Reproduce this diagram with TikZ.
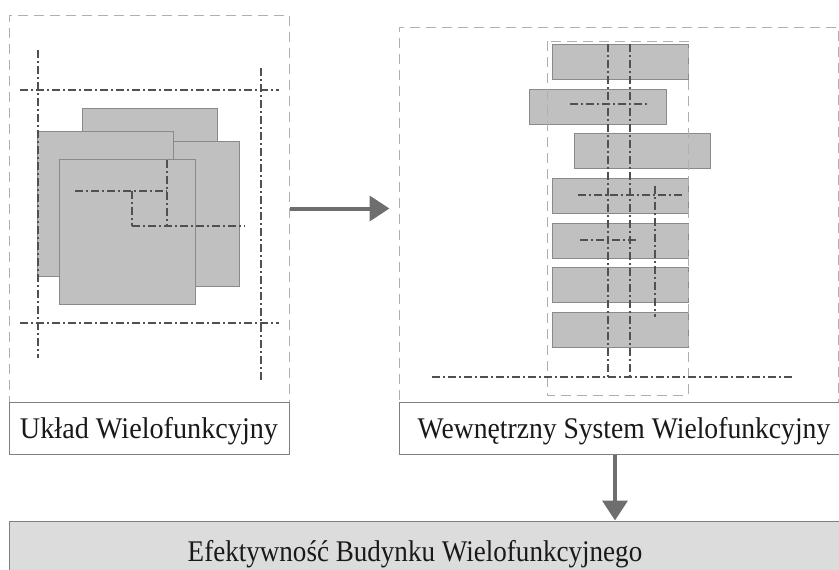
\documentclass[tikz,border=0pt]{standalone}
\usepackage{fontspec}
\setmainfont{Liberation Serif}[FakeStretch=0.94]
\usepackage{tikz}
\usetikzlibrary{arrows.meta, positioning}
\definecolor{blockgray}{HTML}{C0C0C0}
\definecolor{blockedge}{HTML}{8A8A8A}
\definecolor{axisgray}{HTML}{505050}
\definecolor{framegray}{HTML}{B0B0B0}
\definecolor{arrowgray}{HTML}{6E6E6E}
\definecolor{resultgray}{HTML}{DCDCDC}
\tikzset{
	frame/.style={draw=framegray, line width=1pt, dash pattern=on 10pt off 6pt, minimum width=#1, inner sep=0pt},
	labelbox/.style={draw=gray, line width=1pt, fill=white, minimum height=52pt, inner sep=0pt, text height=24pt, text depth=4pt, font=\fontsize{30}{32}\selectfont, text=black!90},
	block/.style={fill=blockgray, draw=blockedge, line width=1pt},
	axis/.style={draw=axisgray, line width=1.6pt, dash pattern=on 8pt off 3pt on 2pt off 3pt},
	flow/.style={draw=arrowgray, line width=4pt, -{Triangle[length=20pt, width=25pt]}}
}
\begin{document}
\begin{tikzpicture}[x=1pt, y=-1pt]
	\useasboundingbox (0,0) rectangle (839,570);
	% frames
	\node[frame=280pt, minimum height=387pt] (lframe) at (149,208.5) {};
	\node[frame=439pt, minimum height=375pt] (rframe) at (618.5,214.5) {};
	% left layout
	\foreach \xa/\ya/\xb/\yb in {82/108/217/253, 103/141/239/286, 37/131/173/276, 59/159/195/304}
	{
		\draw[block] (\xa,\ya) rectangle (\xb,\yb);
	}
	\foreach \xa/\ya/\xb/\yb in {38/50/38/358, 261/68/261/380, 20/90/279/90, 20/323/279/323, 75/191/167/191, 167/160/167/226, 132/191/132/226, 132/226/245/226}
	{
		\draw[axis] (\xa,\ya) -- (\xb,\yb);
	}
	% right system
	\foreach \xa/\ya/\xb/\yb in {552/44/688/79, 529/89/666/124, 574/133/710/168, 552/178/688/213, 552/223/688/258, 552/267/688/302, 552/312/688/347}
	{
		\draw[block] (\xa,\ya) rectangle (\xb,\yb);
	}
	\draw[draw=framegray, line width=0.8pt, dash pattern=on 10pt off 6pt] (547,41) rectangle (688,395);
	\foreach \xa/\ya/\xb/\yb in {608/44/608/377, 630/44/630/377, 432/377/792/377, 570/104/647/104, 578/195/683/195, 655/186/655/317, 580/240/637/240}
	{
		\draw[axis] (\xa,\ya) -- (\xb,\yb);
	}
	% labels
	\node[labelbox, minimum width=280pt] (llabel) at (149,428) {Układ Wielofunkcyjny};
	\node[labelbox, minimum width=442pt] (rlabel) at (620,428) {\hspace*{8pt}\scalebox{0.98}[1]{Wewnętrzny System Wielofunkcyjny}};
	\node[labelbox, fill=resultgray, minimum width=836pt, minimum height=54pt, text height=28pt, text depth=2pt] (result) at (427,548) {\hspace*{-24pt}\scalebox{0.96}[1]{Efektywność Budynku Wielofunkcyjnego}};
	% arrows
	\draw[flow, shorten >=9pt] (lframe.east) -- (lframe.east -| rframe.west);
	\draw[flow] ([xshift=-5pt]rlabel.south) -- ([xshift=-5pt]rlabel.south |- result.north);
\end{tikzpicture}
\end{document}
